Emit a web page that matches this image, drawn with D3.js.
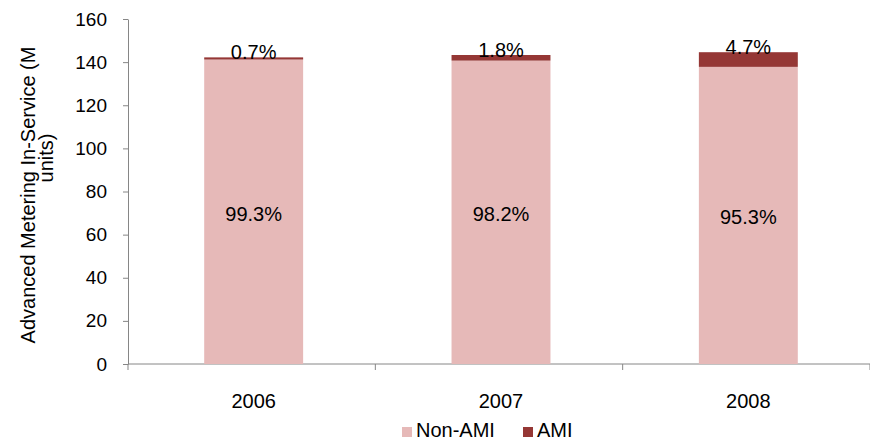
<!DOCTYPE html>
<html>
<head>
<meta charset="utf-8">
<script src="https://cdn.jsdelivr.net/npm/d3@7"></script>
<style>
  body { margin: 0; background: #fff; }
  svg { display: block; font-family: "Liberation Sans", Arial, sans-serif; }
  .axis path, .axis line { stroke: #868686; }
  .axis text { fill: #000; font-size: 19px; }
</style>
</head>
<body>
<div id="chart"></div>
<script>
// chart values (M units)
const years = ["2006", "2007", "2008"];
const nonAmi = [141.2, 140.7, 137.8];
const ami = [1.0, 2.6, 6.8];
const yTicks = [0, 20, 40, 60, 80, 100, 120, 140, 160];
const seriesNames = ["Non-AMI", "AMI"];
const colors = {"Non-AMI": "#E6B9B8", "AMI": "#953735"};

const width = 870, height = 448;
const margin = {top: 19, right: 0, bottom: 84, left: 128};

let svg = d3.select("#chart").append("svg")
    .attr("width", width)
    .attr("height", height);

let data = years.map((y, i) => ({year: y, "Non-AMI": nonAmi[i], "AMI": ami[i]}));
let stacked = d3.stack().keys(seriesNames)(data);

//scales
let xScale = d3.scaleBand()
    .domain(years)
    .range([margin.left + 2, width - margin.right + 2])
    .paddingInner(0.6)
    .paddingOuter(0.3);
let catScale = d3.scaleBand()
    .domain(years)
    .range([margin.left, width - margin.right]);
let yScale = d3.scaleLinear()
    .domain([0, 160])
    .range([height - margin.bottom, margin.top]);

//y axis
svg.append("g")
    .attr("class", "axis")
    .attr("transform", `translate(${margin.left},0)`)
    .call(d3.axisLeft(yScale).tickValues(yTicks).tickSize(5).tickPadding(16).tickSizeOuter(0));

//x axis line and category ticks
let xAxis = svg.append("g").attr("class", "axis");
xAxis.append("line")
    .attr("x1", margin.left).attr("x2", width - margin.right)
    .attr("y1", yScale(0)).attr("y2", yScale(0));
let bounds = years.map(y => catScale(y)).concat([catScale(years[years.length - 1]) + catScale.bandwidth()]);
xAxis.selectAll(".xtick")
    .data(bounds)
    .enter().append("line")
    .attr("x1", d => d).attr("x2", d => d)
    .attr("y1", yScale(0)).attr("y2", yScale(0) + 6);
svg.selectAll(".year")
    .data(years)
    .enter().append("text")
    .attr("x", d => catScale(d) + catScale.bandwidth() / 2 + 2)
    .attr("y", yScale(0) + 44)
    .attr("text-anchor", "middle")
    .attr("font-size", "20px")
    .text(d => d);

//bars
svg.selectAll(".series")
    .data(stacked)
    .enter().append("g")
    .attr("fill", d => colors[d.key])
    .selectAll("rect")
    .data(d => d)
    .enter().append("rect")
    .attr("x", d => xScale(d.data.year))
    .attr("width", xScale.bandwidth())
    .attr("y", d => yScale(d[1]))
    .attr("height", d => yScale(d[0]) - yScale(d[1]));

//percent labels
data.forEach(d => {
    let total = d["Non-AMI"] + d["AMI"];
    let cx = xScale(d.year) + xScale.bandwidth() / 2;
    svg.append("text")
        .attr("x", cx)
        .attr("y", (yScale(0) + yScale(d["Non-AMI"])) / 2)
        .attr("dy", "0.45em")
        .attr("text-anchor", "middle")
        .attr("font-size", "20px")
        .text((d["Non-AMI"] / total * 100).toFixed(1) + "%");
    svg.append("text")
        .attr("x", cx)
        .attr("y", yScale(total) + 1.5)
        .attr("text-anchor", "middle")
        .attr("font-size", "20px")
        .text((d["AMI"] / total * 100).toFixed(1) + "%");
});

//y axis label
let ylab = svg.append("text")
    .attr("transform", "translate(35,195) rotate(-90)")
    .attr("text-anchor", "middle")
    .attr("font-size", "20px");
ylab.append("tspan").attr("x", 0).attr("y", 0).text("Advanced Metering In-Service (M");
ylab.append("tspan").attr("x", 37).attr("y", 18).text("units)");

//legend
let legend = svg.append("g");
let legendX = [402, 523];
seriesNames.forEach((s, i) => {
    legend.append("rect")
        .attr("x", legendX[i]).attr("y", 427)
        .attr("width", 10).attr("height", 10)
        .attr("fill", colors[s]);
    legend.append("text")
        .attr("x", legendX[i] + 14).attr("y", 437)
        .attr("font-size", "20px")
        .text(s);
});
</script>
</body>
</html>
